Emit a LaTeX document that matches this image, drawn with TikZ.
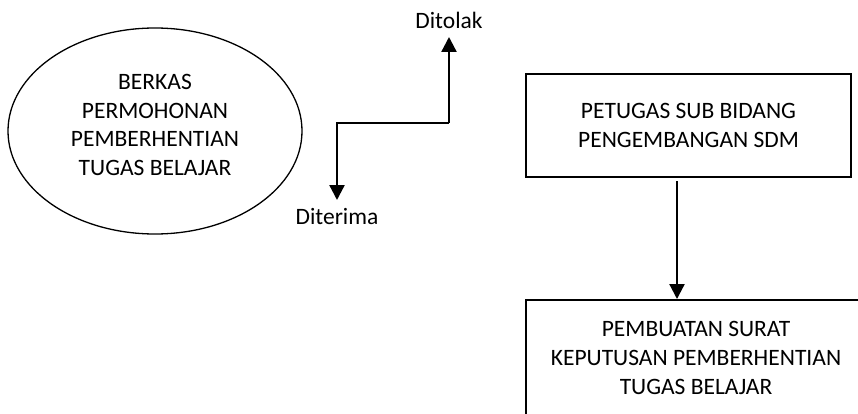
\documentclass[tikz,border=0pt]{standalone}
\usepackage{fontspec}
\setmainfont{Carlito}
\usetikzlibrary{arrows.meta,positioning,shapes.geometric}

\begin{document}
\begin{tikzpicture}[
  x=1pt, y=-1pt,
  font=\fontsize{23.5}{28.7}\selectfont,
  box/.style={draw, line width=2pt, align=center, inner sep=0pt},
  berkas/.style={ellipse, draw, line width=1.3pt, align=center, inner sep=0pt},
  lbl/.style={inner xsep=0pt, inner ysep=8pt},
  arrow/.style={-{Triangle[width=15pt,length=15pt]}, line width=2.3pt}
]
\useasboundingbox (0,0) rectangle (858,414);
\clip (0,0) rectangle (858,414);
\node[berkas, minimum width=294pt, minimum height=206pt, text depth=12pt] (berkas) at (155,131) {BERKAS\\PERMOHONAN\\PEMBERHENTIAN\\TUGAS BELAJAR};
\node[box, minimum width=325pt, minimum height=103pt] (petugas) at (688.5,125.5) {PETUGAS SUB BIDANG\\PENGEMBANGAN SDM};
\node[box, minimum width=340pt, minimum height=116pt, below=121pt of petugas.south west, anchor=north west] (surat) {PEMBUATAN SURAT\\KEPUTUSAN PEMBERHENTIAN\\TUGAS BELAJAR};
% percabangan
\coordinate (belok) at (337,123);
\coordinate (naik) at (449,123);
\node[lbl, anchor=north] (diterima) at (337,200) {Diterima};
\node[lbl, anchor=south] (ditolak) at (449,37) {Ditolak};
\draw[arrow] (naik) -- (ditolak);
\draw[arrow] (naik) -- (belok) -- (diterima);
\draw[arrow, shorten <=3pt] ([xshift=-11.5pt]petugas.south) -- ([xshift=-19pt]surat.north);
\end{tikzpicture}
\end{document}
